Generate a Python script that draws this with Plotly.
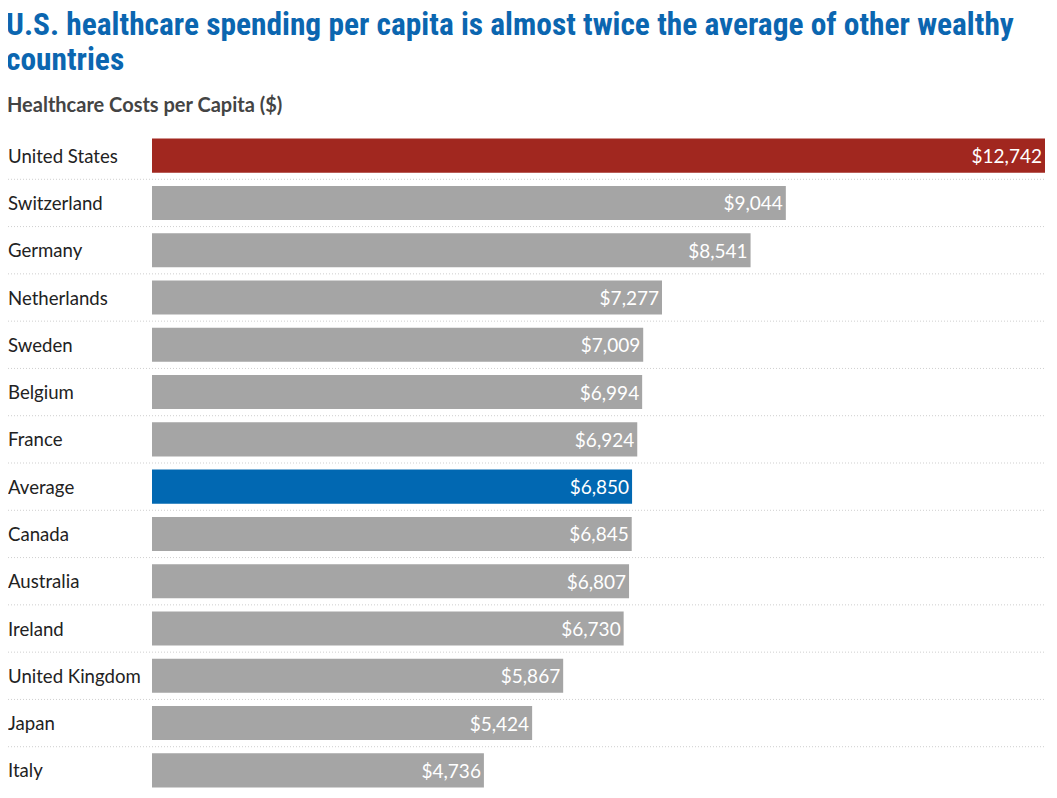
import plotly.graph_objects as go

countries = ["United States", "Switzerland", "Germany", "Netherlands", "Sweden", "Belgium",
             "France", "Average", "Canada", "Australia", "Ireland", "United Kingdom", "Japan", "Italy"]
values = [12742, 9044, 8541, 7277, 7009, 6994, 6924, 6850, 6845, 6807, 6730, 5867, 5424, 4736]
colors = ["#a1271f" if c == "United States" else "#0168b2" if c == "Average" else "#a5a5a5"
          for c in countries]

title_lines = ["U.S. healthcare spending per capita is almost twice the average of other wealthy",
               "countries"]
subtitle_text = "Healthcare Costs per Capita ($)"

OFF = 8  # page body offset
W, H = 1057 - OFF, 798 - OFF
L, R, T, B = 152 - OFF, 12, 132 - OFF, 4
plot_w = W - L - R
plot_h = H - T - B

def px_x(p):
    return (p - OFF - L) / plot_w

def px_y(p):
    return (H - B - (p - OFF)) / plot_h

fig = go.Figure(go.Bar(
    x=values, y=countries, orientation="h",
    marker=dict(color=colors, line=dict(width=0)),
    text=["${:,}".format(v) for v in values],
    textposition="inside", insidetextanchor="end",
    textfont=dict(family="Lato", size=19, color="white"),
    cliponaxis=False, hoverinfo="skip",
))

n = len(countries)
shapes = []
for k in range(1, n):
    yp = 1 - k / n
    shapes.append(dict(type="line", xref="paper", yref="paper", x0=px_x(5), x1=1,
                       y0=yp, y1=yp, line=dict(color="#cfcfcf", width=1, dash="1px,2px"),
                       layer="below"))

annotations = []
for c in countries:
    annotations.append(dict(text=c, xref="paper", yref="y", x=px_x(6), y=c,
                            xanchor="left", yanchor="middle", showarrow=False,
                            font=dict(family="Lato", size=18.6, color="#222222")))
for line, cy, wd in zip(title_lines, [24, 59], [1030, 200]):
    annotations.append(dict(text=line, xref="paper", yref="paper",
                            x=px_x(4), y=px_y(cy), xanchor="left", yanchor="middle",
                            align="left", valign="middle", width=wd, height=44,
                            showarrow=False,
                            font=dict(family="Roboto Condensed, Roboto",
                                      size=31.4, weight=700, color="#0b66b0")))
annotations.append(dict(text=subtitle_text, xref="paper", yref="paper",
                        x=px_x(5), y=px_y(104), xanchor="left", yanchor="middle",
                        showarrow=False,
                        font=dict(family="Lato", size=20, weight=700, color="#444444")))

fig.update_layout(
    width=W, height=H,
    margin=dict(l=L, r=R, t=T, b=B, pad=0),
    paper_bgcolor="white", plot_bgcolor="white",
    bargap=0.28,
    showlegend=False,
    xaxis=dict(range=[0, max(values)], showgrid=False, zeroline=False, showticklabels=False,
               showline=False, fixedrange=True),
    yaxis=dict(autorange="reversed", showgrid=False, showticklabels=False, showline=False,
               ticks="", fixedrange=True),
    shapes=shapes,
    annotations=annotations,
)

fig.write_html("out.html", config={"displayModeBar": False})
